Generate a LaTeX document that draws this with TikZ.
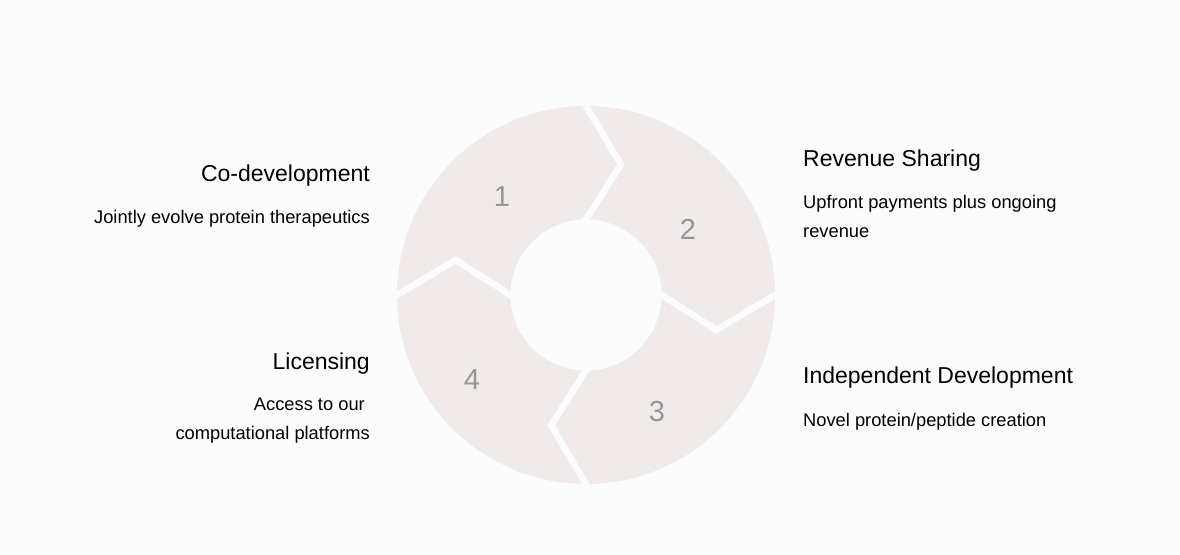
\documentclass[tikz,border=0pt]{standalone}
\usepackage{fontspec}
\setmainfont{Liberation Sans}
\usetikzlibrary{calc}
\definecolor{ringfill}{RGB}{240,234,234}
\definecolor{pagebg}{RGB}{253,252,252}
\definecolor{digitgray}{RGB}{150,150,150}

\begin{document}
\begin{tikzpicture}[x=1pt,y=1pt,
        title/.style={font=\fontsize{23}{28}\selectfont, inner sep=0pt},
        desc/.style={font=\fontsize{18.3}{29}\selectfont, inner sep=0pt},
        num/.style={font=\fontsize{29}{29}\selectfont, text=digitgray, inner sep=0pt},
        gap/.style={draw=pagebg, line width=6.5pt, line join=miter}]
            % page and ring
            \fill [pagebg] (-586,-259) rectangle (594,295);
            \useasboundingbox (-586,-259) rectangle (594,295);
            \fill [ringfill] (0,0) circle (189);

            \draw [gap] ($(75:135)!1.12!(90:189)$) -- (75:135) -- ($(75:135)!1.2!(90:75.5)$);
            \draw [gap] ($(-15:135)!1.12!(0:189)$) -- (-15:135) -- ($(-15:135)!1.2!(0:75.5)$);
            \draw [gap] ($(-105:135)!1.12!(-90:189)$) -- (-105:135) -- ($(-105:135)!1.2!(-90:75.5)$);
            \draw [gap] ($(165:135)!1.12!(180:189)$) -- (165:135) -- ($(165:135)!1.2!(180:75.5)$);

            \fill [pagebg] (0,0) circle (75.5);

            \node [num] (n1) at (-84, 98) {1};
            \node [num] (n2) at (102, 66) {2};
            \node [num] (n3) at (71, -117) {3};
            \node [num] (n4) at (-114, -85) {4};

            % left texts
            \node [title, anchor=base east] (coT) at (-216, 113.3) {Co-development};
            \node [desc, anchor=base east] (coD) at (-216, 71.7) {Jointly evolve protein therapeutics};
            \node [title, anchor=base east] (licT) at (-216, -74) {Licensing};
            \node [desc, anchor=base east, align=right] (licD) at (-216, -144.3) {Access to our\kern5pt\\computational platforms};

            % right texts
            \node [title, anchor=base west] (revT) at (217, 128.3) {Revenue Sharing};
            \node [desc, anchor=base west, align=left] (revD) at (217, 57.5) {Upfront payments plus ongoing\\revenue};
            \node [title, anchor=base west] (indT) at (217, -88.3) {Independent Development};
            \node [desc, anchor=base west] (indD) at (217, -131) {Novel protein/peptide creation};
        \end{tikzpicture}
\end{document}
